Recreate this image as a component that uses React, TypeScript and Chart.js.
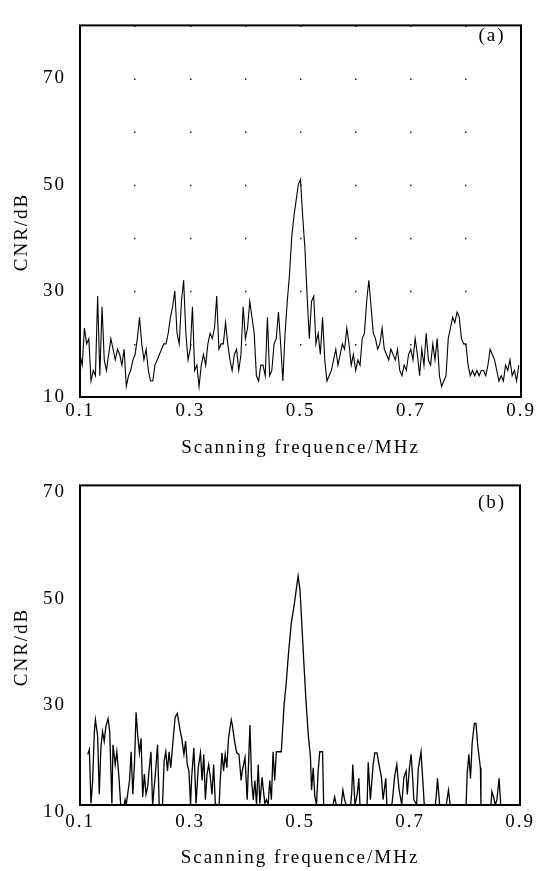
import React, { useEffect, useRef } from "react";
import { Chart, registerables } from "chart.js";
Chart.register(...registerables);

// ---------- data (a) ----------
const aFreq = [
  0.100, 0.104, 0.108, 0.112, 0.116, 0.120, 0.124, 0.128, 0.132, 0.136,
  0.140, 0.144, 0.148, 0.152, 0.156, 0.160, 0.164, 0.168, 0.172, 0.176,
  0.180, 0.184, 0.188, 0.192, 0.196, 0.200, 0.204, 0.208, 0.212, 0.216,
  0.220, 0.224, 0.228, 0.232, 0.236, 0.240, 0.244, 0.248, 0.252, 0.256,
  0.260, 0.264, 0.268, 0.272, 0.276, 0.280, 0.284, 0.288, 0.292, 0.296,
  0.300, 0.304, 0.308, 0.312, 0.316, 0.320, 0.324, 0.328, 0.332, 0.336,
  0.340, 0.344, 0.348, 0.352, 0.356, 0.360, 0.364, 0.368, 0.372, 0.376,
  0.380, 0.384, 0.388, 0.392, 0.396, 0.400, 0.404, 0.408, 0.412, 0.416,
  0.420, 0.424, 0.428, 0.432, 0.436, 0.440, 0.444, 0.448, 0.452, 0.456,
  0.460, 0.464, 0.468, 0.472, 0.476, 0.480, 0.484, 0.488, 0.492, 0.496,
  0.500, 0.504, 0.508, 0.512, 0.516, 0.520, 0.524, 0.528, 0.532, 0.536,
  0.540, 0.544, 0.548, 0.552, 0.556, 0.560, 0.564, 0.568, 0.572, 0.576,
  0.580, 0.584, 0.588, 0.592, 0.596, 0.600, 0.604, 0.608, 0.612, 0.616,
  0.620, 0.624, 0.628, 0.632, 0.636, 0.640, 0.644, 0.648, 0.652, 0.656,
  0.660, 0.664, 0.668, 0.672, 0.676, 0.680, 0.684, 0.688, 0.692, 0.696,
  0.700, 0.704, 0.708, 0.712, 0.716, 0.720, 0.724, 0.728, 0.732, 0.736,
  0.740, 0.744, 0.748, 0.752, 0.756, 0.760, 0.764, 0.768, 0.772, 0.776,
  0.780, 0.784, 0.788, 0.792, 0.796, 0.800, 0.804, 0.808, 0.812, 0.816,
  0.820, 0.824, 0.828, 0.832, 0.836, 0.840, 0.844, 0.848, 0.852, 0.856,
  0.860, 0.864, 0.868, 0.872, 0.876, 0.880, 0.884, 0.888, 0.892, 0.896,
];
const aCnr = [
  18, 16, 23, 20, 21, 13, 15, 14, 29, 14,
  27, 17, 15, 18, 21, 19, 17, 19, 18, 16,
  19, 12, 14, 15, 17, 18, 21, 25, 20, 17,
  19, 15, 13, 13, 16, 17, 18, 19, 20, 20,
  22, 25, 27, 30, 22, 20, 28, 32, 22, 17,
  19, 27, 15, 16, 12, 16, 18, 16, 20, 22,
  21, 23, 29, 19, 20, 20, 24, 20, 17, 15,
  18, 19, 15, 18, 27, 21, 23, 28, 25, 22,
  14, 13, 16, 16, 14, 25, 14, 15, 20, 21,
  26, 20, 13, 22, 28, 33, 40, 44, 47, 50,
  51, 44, 38, 29, 21, 28, 29, 20, 22, 18,
  25, 17, 13, 14, 15, 17, 19, 16, 18, 20,
  19, 23, 20, 16, 18, 15, 17, 16, 21, 22,
  28, 32, 27, 22, 21, 19, 20, 23, 19, 18,
  17, 19, 18, 17, 19, 15, 14, 16, 15, 18,
  19, 17, 21, 18, 14, 19, 16, 22, 17, 16,
  20, 17, 21, 14, 12, 13, 14, 21, 23, 25,
  24, 26, 25, 21, 20, 20, 16, 14, 15, 14,
  15, 14, 15, 15, 14, 16, 19, 18, 17, 15,
  13, 14, 13, 16, 15, 17, 14, 15, 13, 16,
];

// ---------- data (b) ----------
const bFreq = [
  0.114, 0.117, 0.120, 0.123, 0.126, 0.128, 0.132, 0.135, 0.138, 0.141,
  0.144, 0.147, 0.151, 0.154, 0.158, 0.160, 0.164, 0.167, 0.171, 0.174,
  0.180, 0.182, 0.184, 0.190, 0.193, 0.196, 0.199, 0.202, 0.205, 0.208,
  0.211, 0.214, 0.217, 0.220, 0.223, 0.226, 0.229, 0.232, 0.237, 0.241,
  0.244, 0.250, 0.253, 0.256, 0.259, 0.262, 0.265, 0.270, 0.273, 0.277,
  0.282, 0.285, 0.289, 0.292, 0.295, 0.298, 0.301, 0.303, 0.307, 0.311,
  0.315, 0.319, 0.322, 0.325, 0.328, 0.331, 0.334, 0.337, 0.340, 0.343,
  0.346, 0.349, 0.353, 0.355, 0.358, 0.361, 0.364, 0.367, 0.370, 0.375,
  0.377, 0.381, 0.385, 0.389, 0.393, 0.395, 0.400, 0.404, 0.409, 0.412,
  0.415, 0.418, 0.421, 0.424, 0.427, 0.431, 0.436, 0.439, 0.442, 0.445,
  0.448, 0.451, 0.454, 0.457, 0.462, 0.466, 0.471, 0.475, 0.479, 0.484,
  0.490, 0.4965, 0.500, 0.503, 0.507, 0.511, 0.515, 0.519, 0.521, 0.524,
  0.527, 0.530, 0.533, 0.536, 0.541, 0.543, 0.560, 0.563, 0.566, 0.575,
  0.578, 0.581, 0.584, 0.592, 0.594, 0.596, 0.600, 0.604, 0.607, 0.609,
  0.622, 0.624, 0.628, 0.633, 0.636, 0.640, 0.644, 0.648, 0.651, 0.656,
  0.658, 0.667, 0.669, 0.672, 0.676, 0.680, 0.685, 0.689, 0.693, 0.695,
  0.699, 0.702, 0.705, 0.707, 0.712, 0.715, 0.720, 0.723, 0.726, 0.746,
  0.748, 0.750, 0.754, 0.766, 0.768, 0.770, 0.773, 0.802, 0.804, 0.807,
  0.810, 0.813, 0.817, 0.820, 0.823, 0.828, 0.829, 0.847, 0.849, 0.852,
  0.855, 0.858, 0.862, 0.865,
];
const bCnr = [
  19.5, 20.4, 10.3, 14.6, 23.5, 26, 23, 12, 20.7, 23.8,
  22, 24.7, 26.2, 23.8, 10.3, 21.3, 17.6, 20, 15, 10,
  10, 11, 10, 14.6, 20, 12, 17.6, 27.4, 23, 19.8,
  22.5, 11.5, 15.8, 12, 13.4, 17, 20, 10, 15.8, 21.3,
  10, 10, 18.3, 20, 16.4, 20, 17, 23.1, 26.5, 27.2,
  24, 22.5, 19.5, 22, 17.6, 16.4, 10, 15.2, 20.7, 10.3,
  17, 19.8, 14.6, 19.5, 11, 15.8, 17.6, 15.2, 12, 17.6,
  10.3, 10, 10, 14.6, 19.8, 16.4, 19.5, 17, 22.5, 26,
  25, 22, 19.8, 19.5, 14.6, 16.4, 18.9, 11, 25, 14.6,
  11, 14.6, 10, 17.6, 10.3, 15.2, 10.3, 11, 10, 14.6,
  11, 20, 14.6, 20, 20, 20, 28.7, 33, 38.4, 44,
  48, 53, 50.4, 44.6, 36.7, 29.4, 23.2, 19, 12.8, 17,
  11.6, 10, 16.4, 20, 20, 10, 10, 11.5, 10, 10,
  12.8, 11, 10, 10, 12.2, 17.6, 10, 12, 15, 10,
  10, 18, 11, 17.6, 19.8, 19.8, 17.4, 15.3, 11, 15,
  10, 10, 12, 15.3, 17.6, 13, 10, 15.3, 16.4, 12,
  17, 19.5, 14.7, 11, 10, 16.7, 20, 15, 10, 10,
  12, 15, 10, 10, 11.5, 12.8, 10, 10, 16, 19.5,
  15, 21.6, 25.3, 25.3, 21.3, 17, 10, 10, 12.5, 11.5,
  10, 11, 15, 10,
];

// ---------- axes / labels ----------
const xLabelTicks = [0.1, 0.3, 0.5, 0.7, 0.9];
const yLabelTicks = [10, 30, 50, 70];
const xTitle = "Scanning frequence/MHz";
const yTitle = "CNR/dB";
const panelA = "(a)";
const panelB = "(b)";

const FONT = "'Liberation Serif', 'Times New Roman', serif";
const FS = 19;
const SPACING = "2px";

type PanelCfg = {
  freq: number[];
  cnr: number[];
  yMax: number;
  yStep: number;
  xStep: number;
  dots: boolean;
  panel: string;
  panelY: number;
  yTitleY: number;
  area: { left: number; right: number; top: number; bottom: number };
  height: number;
  xLabelPad: number;
  xTitlePad: number;
  yLabelOffset: number;
  lineWidth: number;
};

function buildChart(canvas: HTMLCanvasElement, cfg: PanelCfg) {
  const W = 544;
  const textPlugin = {
    id: "texts",
    beforeDraw(chart: any) {
      chart.ctx.letterSpacing = SPACING;
    },
    afterDraw(chart: any) {
      const ctx = chart.ctx;
      const a = chart.chartArea;
      ctx.save();
      ctx.letterSpacing = "0px";
      ctx.strokeStyle = "#000";
      ctx.lineWidth = 2;
      ctx.strokeRect(a.left, a.top, a.right - a.left, a.bottom - a.top);
      ctx.letterSpacing = SPACING;
      ctx.fillStyle = "#000";
      ctx.font = `${FS}px ${FONT}`;
      ctx.textAlign = "center";
      ctx.textBaseline = "middle";
      ctx.fillText(cfg.panel, 492, cfg.panelY);
      ctx.translate(22, cfg.yTitleY);
      ctx.rotate(-Math.PI / 2);
      ctx.fillText(yTitle, 0, 0);
      ctx.restore();
    },
  };

  const xIsLabel = (v: number) => xLabelTicks.some((t) => Math.abs(t - v) < 1e-6);

  return new Chart(canvas, {
    type: "line",
    data: {
      datasets: [
        {
          data: cfg.freq.map((f, i) => ({ x: f, y: cfg.cnr[i] })),
          borderColor: "#000",
          borderWidth: cfg.lineWidth,
          pointRadius: 0,
          tension: 0,
          fill: false,
        },
      ],
    },
    options: {
      animation: false,
      responsive: false,
      devicePixelRatio: 1,
      layout: {
        padding: {
          left: 0,
          right: W - cfg.area.right,
          top: cfg.area.top,
          bottom: 0,
        },
      },
      plugins: { legend: { display: false }, tooltip: { enabled: false } },
      scales: {
        x: {
          type: "linear",
          min: 0.1,
          max: 0.9,
          afterFit: (s: any) => {
            s.height = cfg.height - cfg.area.bottom;
          },
          ticks: {
            stepSize: cfg.xStep,
            autoSkip: false,
            maxRotation: 0,
            padding: cfg.xLabelPad,
            color: "#000",
            font: { family: FONT, size: FS },
            callback: (v: any) => (xIsLabel(Number(v)) ? Number(v).toFixed(1) : ""),
          },
          grid: {
            display: cfg.dots,
            drawTicks: false,
            color: "#222",
            lineWidth: 1.5,
          },
          border: {
            display: false,
            dash: (c: any) => {
              const a = c.chart.chartArea;
              const h = a ? (a.bottom - a.top) / 7 : 55;
              return [1.5, h - 1.5];
            },
          },
          title: {
            display: true,
            text: xTitle,
            color: "#000",
            font: { family: FONT, size: FS },
            padding: { top: 0, bottom: cfg.xTitlePad },
          },
        },
        y: {
          type: "linear",
          min: 10,
          max: cfg.yMax,
          afterFit: (s: any) => {
            s.width = cfg.area.left;
          },
          ticks: {
            stepSize: cfg.yStep,
            autoSkip: false,
            padding: 14,
            labelOffset: cfg.yLabelOffset,
            color: "#000",
            font: { family: FONT, size: FS },
            callback: (v: any) => (yLabelTicks.includes(Math.round(Number(v))) ? String(Math.round(Number(v))) : ""),
          },
          grid: { display: false, drawTicks: false },
          border: { display: false },
        },
      },
    },
    plugins: [textPlugin],
  });
}

function Panel({ cfg, top }: { cfg: PanelCfg; top: number }) {
  const ref = useRef<HTMLCanvasElement | null>(null);
  useEffect(() => {
    if (!ref.current) return;
    const chart = buildChart(ref.current, cfg);
    return () => chart.destroy();
  }, []);
  return (
    <canvas
      ref={ref}
      width={544}
      height={cfg.height}
      style={{ position: "absolute", left: 0, top, width: 544, height: cfg.height, display: "block" }}
    />
  );
}

const cfgA: PanelCfg = {
  freq: aFreq,
  cnr: aCnr,
  yMax: 80,
  yStep: 10,
  xStep: 0.1,
  dots: true,
  panel: panelA,
  panelY: 36,
  yTitleY: 232,
  area: { left: 80, right: 521, top: 11, bottom: 397 },
  height: 460,
  xLabelPad: 3,
  xTitlePad: 1,
  yLabelOffset: 0,
  lineWidth: 1.1,
};

const cfgB: PanelCfg = {
  freq: bFreq,
  cnr: bCnr,
  yMax: 70,
  yStep: 20,
  xStep: 0.2,
  dots: false,
  panel: panelB,
  panelY: 43,
  yTitleY: 187,
  area: { left: 80, right: 520, top: 18, bottom: 345 },
  height: 411,
  xLabelPad: 6,
  xTitlePad: 2,
  yLabelOffset: 7,
  lineWidth: 1.3,
};

export default function App() {
  return (
    <div style={{ position: "absolute", left: 0, top: 0, width: 544, height: 871, background: "#fff" }}>
      <Panel cfg={cfgA} top={0} />
      <Panel cfg={cfgB} top={460} />
    </div>
  );
}
